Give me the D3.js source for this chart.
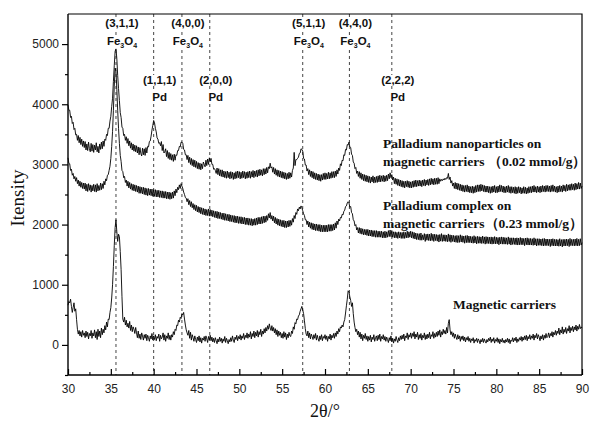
<!DOCTYPE html>
<html><head><meta charset="utf-8">
<script src="https://cdn.jsdelivr.net/npm/d3@7/dist/d3.min.js"></script>
<style>body{margin:0;background:#fff}svg{display:block}</style>
</head><body><svg id="chart" width="590" height="421"></svg>
<script>
// ---------- data ----------
const xTickValues = [30,35,40,45,50,55,60,65,70,75,80,85,90];
const yTickValues = [0,1000,2000,3000,4000,5000];
const xDomain = [30, 90];
const yDomain = [-500, 5500];
const stepDeg = 0.1; // sampling step of the patterns (2θ), one row = 1°

const peakPositions = [35.6, 40.0, 43.3, 46.55, 57.4, 62.85, 67.8];
const peakHkl = ["(3,1,1)","(1,1,1)","(4,0,0)","(2,0,0)","(5,1,1)","(4,4,0)","(2,2,2)"];
const peakPhase = ["Fe3O4","Pd","Fe3O4","Pd","Fe3O4","Fe3O4","Pd"];
const peakRow = [0,1,0,1,0,0,1];

const seriesNames = [
  ["Palladium nanoparticles on","magnetic carriers （0.02 mmol/g）"],
  ["Palladium complex on","magnetic carriers（0.23 mmol/g）"],
  ["Magnetic carriers"]
];

// Pd nanoparticles on magnetic carriers (0.02 mmol/g), 30..90
const pdNanoparticles = [
3990,3900,3900,3780,3800,3680,3700,3580,3600,3490,
3500,3400,3480,3360,3450,3330,3420,3300,3390,3280,
3380,3240,3340,3230,3370,3260,3210,3350,3220,3330,
3200,3320,3240,3360,3210,3300,3190,3340,3250,3370,
3260,3390,3300,3420,3400,3500,3480,3600,3600,3720,
3800,3960,4100,4380,4640,4880,4920,4760,4480,4260,
4060,3860,3780,3620,3600,3480,3500,3400,3460,3350,
3430,3310,3390,3270,3360,3240,3340,3220,3320,3210,
3310,3190,3290,3160,3280,3180,3140,3270,3160,3260,
3150,3280,3190,3300,3290,3380,3390,3470,3570,3650,
3730,3690,3600,3540,3440,3420,3350,3360,3310,3380,
3230,3330,3190,3210,3260,3130,3230,3100,3200,3080,
3180,3070,3160,3050,3170,3070,3160,3150,3230,3230,
3300,3290,3370,3370,3350,3250,3240,3160,3160,3080,
3150,3030,3120,3000,3100,2980,3080,2960,3070,2950,
3050,2930,3030,2920,3020,2910,3010,2930,3040,3000,
2960,3070,2980,3090,3000,3110,3040,3100,3000,3000,
2920,2930,2900,2850,2940,2830,2930,2810,2910,2800,
2910,2790,2890,2780,2880,2770,2890,2780,2870,2760,
2880,2770,2870,2750,2860,2760,2880,2770,2890,2780,
2880,2760,2870,2770,2890,2780,2880,2760,2870,2770,
2880,2780,2890,2770,2880,2790,2900,2780,2890,2800,
2900,2790,2910,2810,2920,2820,2910,2810,2930,2830,
2930,2840,2950,2860,2960,2930,3020,2940,2960,2870,
2950,2840,2930,2820,2910,2800,2900,2790,2890,2780,
2880,2770,2870,2760,2860,2750,2850,2760,2870,2770,
2860,2790,2900,2940,3200,2980,3080,3080,3100,3120,
3180,3190,3260,3250,3220,3100,3090,2990,2990,2890,
2930,2830,2910,2800,2890,2780,2880,2760,2860,2750,
2850,2740,2840,2730,2830,2720,2830,2740,2850,2750,
2860,2750,2850,2760,2870,2760,2860,2770,2880,2780,
2880,2780,2890,2800,2910,2840,2940,2900,3010,2980,
3070,3060,3160,3150,3250,3240,3330,3320,3370,3290,
3280,3170,3150,3040,3020,2930,2950,2850,2890,2800,
2880,2770,2860,2750,2840,2730,2830,2720,2820,2710,
2810,2700,2800,2690,2790,2710,2810,2690,2790,2700,
2800,2700,2810,2710,2820,2710,2810,2720,2820,2710,
2810,2720,2820,2730,2840,2760,2860,2780,2830,2740,
2790,2680,2770,2670,2760,2650,2750,2640,2740,2630,
2730,2620,2720,2610,2720,2630,2730,2620,2720,2610,
2710,2610,2720,2620,2730,2630,2740,2630,2730,2640,
2740,2640,2730,2630,2740,2650,2750,2640,2740,2660,
2750,2650,2760,2660,2770,2670,2760,2660,2770,2670,
2770,2670,2780,2680,2760,2720,2750,2730,2760,2740,
2770,2750,2780,2770,2850,2750,2790,2690,2730,2640,
2690,2600,2700,2590,2690,2580,2680,2570,2670,2560,
2660,2550,2650,2540,2650,2550,2660,2540,2640,2530,
2630,2530,2640,2520,2630,2530,2650,2540,2660,2550,
2660,2550,2670,2560,2660,2550,2650,2540,2640,2540,
2640,2530,2630,2520,2630,2530,2640,2540,2650,2530,
2630,2530,2640,2540,2660,2550,2650,2540,2640,2530,
2630,2530,2640,2540,2650,2530,2630,2520,2630,2530,
2620,2520,2630,2510,2620,2520,2630,2530,2620,2510,
2610,2520,2630,2520,2620,2510,2610,2520,2630,2530,
2630,2530,2640,2540,2650,2540,2630,2530,2640,2540,
2630,2530,2640,2540,2650,2550,2640,2540,2650,2550,
2650,2550,2640,2540,2650,2550,2660,2550,2640,2540,
2630,2530,2640,2540,2650,2550,2640,2540,2660,2560,
2650,2550,2670,2560,2660,2570,2670,2570,2680,2580,
2670,2570,2690,2580,2680,2590,2700,2590,2690,2600,
2640];

// Pd complex on magnetic carriers (0.23 mmol/g)
const pdComplex = [
3110,3020,3010,2900,2920,2820,2850,2760,2800,2720,
2780,2680,2740,2640,2720,2620,2700,2600,2690,2590,
2690,2560,2670,2550,2680,2570,2660,2540,2650,2560,
2670,2550,2660,2540,2680,2560,2650,2570,2690,2580,
2680,2600,2720,2660,2760,2730,2820,2830,2900,2970,
3100,3300,3550,3900,4300,4600,4550,4250,3900,3600,
3350,3150,3050,2900,2880,2780,2800,2700,2740,2640,
2720,2610,2700,2590,2680,2570,2670,2560,2660,2550,
2650,2540,2640,2520,2630,2520,2620,2510,2620,2500,
2610,2490,2600,2480,2600,2490,2590,2480,2590,2470,
2580,2470,2580,2460,2570,2460,2570,2450,2560,2450,
2560,2440,2550,2440,2550,2430,2540,2430,2540,2420,
2530,2430,2540,2440,2560,2480,2590,2530,2620,2580,
2660,2600,2680,2640,2600,2540,2500,2450,2440,2380,
2430,2330,2400,2300,2380,2280,2350,2250,2330,2230,
2320,2210,2300,2200,2290,2180,2280,2170,2270,2160,
2260,2150,2250,2150,2260,2140,2250,2140,2240,2130,
2230,2120,2220,2110,2220,2100,2210,2100,2200,2090,
2190,2080,2190,2070,2180,2070,2170,2060,2170,2050,
2160,2050,2150,2040,2150,2030,2140,2030,2140,2020,
2130,2020,2130,2010,2120,2010,2120,2000,2110,2000,
2110,1990,2100,1990,2100,1980,2090,1990,2100,1990,
2110,2000,2120,2010,2120,2010,2130,2020,2140,2030,
2140,2040,2150,2070,2180,2110,2200,2090,2150,2060,
2140,2030,2120,2010,2100,1990,2090,1980,2080,1970,
2070,1960,2070,1950,2060,1950,2060,1960,2070,1970,
2070,1990,2100,2040,2150,2100,2200,2170,2260,2230,
2290,2260,2310,2280,2230,2180,2150,2080,2080,2000,
2060,1960,2040,1940,2030,1920,2020,1910,2010,1900,
2010,1900,2000,1890,2000,1880,1990,1880,1990,1880,
1990,1880,1990,1880,2000,1890,2000,1890,2000,1900,
2010,1910,2030,1940,2060,2000,2090,2060,2120,2110,
2170,2160,2220,2240,2300,2310,2360,2380,2360,2290,
2300,2200,2180,2080,2060,1980,2000,1910,1950,1860,
1950,1850,1940,1840,1930,1830,1920,1830,1920,1820,
1920,1810,1910,1810,1910,1800,1900,1800,1900,1790,
1900,1790,1890,1790,1890,1790,1890,1780,1880,1780,
1890,1780,1880,1790,1900,1800,1910,1800,1890,1790,
1880,1780,1880,1780,1870,1770,1880,1780,1870,1770,
1870,1770,1880,1770,1870,1780,1890,1780,1880,1790,
1890,1780,1880,1770,1870,1760,1860,1750,1850,1750,
1850,1740,1860,1740,1830,1750,1850,1720,1840,1740,
1845,1735,1840,1730,1855,1735,1840,1720,1840,1735,
1835,1725,1830,1710,1835,1725,1850,1720,1830,1725,
1830,1720,1825,1715,1845,1720,1830,1705,1825,1720,
1820,1710,1815,1705,1820,1700,1815,1705,1830,1710,
1815,1705,1810,1690,1815,1700,1820,1700,1810,1700,
1805,1695,1800,1690,1815,1695,1800,1680,1805,1690,
1800,1690,1795,1685,1810,1690,1795,1675,1800,1685,
1795,1685,1790,1680,1795,1675,1790,1680,1800,1680,
1790,1680,1785,1665,1790,1680,1795,1675,1790,1675,
1785,1675,1780,1670,1795,1675,1780,1660,1780,1670,
1780,1670,1775,1665,1780,1660,1775,1665,1785,1665,
1775,1665,1770,1650,1775,1665,1780,1660,1770,1660,
1770,1660,1765,1655,1780,1660,1765,1645,1765,1655,
1765,1655,1760,1650,1765,1645,1770,1650,1760,1650,
1760,1650,1755,1635,1760,1650,1765,1645,1755,1645,
1755,1645,1750,1640,1765,1645,1750,1630,1755,1645,
1755,1645,1760,1650,1755,1635,1770,1650,1755,1650,
1755,1645,1760,1650,1770,1645,1755,1650,1765,1660,
1700];

// Magnetic carriers
const magneticCarriers = [
660,720,700,760,640,540,620,700,560,600,
420,260,180,240,150,220,130,240,160,200,
120,230,140,210,100,190,150,240,110,200,
150,250,120,220,90,260,140,230,120,280,
170,260,200,320,250,380,300,430,420,540,
620,780,1000,1300,1650,1950,2080,1880,1720,1840,
1800,1550,1250,800,430,380,460,330,410,300,
360,280,390,240,330,220,300,260,190,290,
200,120,230,110,180,90,200,150,80,170,
110,180,70,160,120,60,150,100,190,80,
150,90,170,70,140,110,180,60,160,100,
130,200,80,170,60,150,110,200,90,160,
80,170,130,220,170,260,240,330,320,410,
380,460,440,520,500,540,430,330,250,200,
160,240,110,210,80,170,120,60,150,90,
40,130,70,150,50,120,30,110,80,140,
60,150,100,40,140,80,160,70,130,50,
110,40,120,70,20,100,50,130,60,110,
30,100,60,140,40,110,70,20,90,50,
120,60,150,80,40,130,90,160,70,140,
100,170,80,150,110,190,90,160,120,200,
110,180,130,220,100,190,140,230,120,210,
150,240,130,220,170,260,140,230,180,270,
200,290,230,320,260,350,280,240,320,230,
290,200,270,170,250,140,230,160,210,120,
190,110,220,130,200,90,180,120,210,150,
140,230,190,300,260,370,350,430,420,480,
500,560,600,640,580,520,400,270,180,150,
230,120,200,100,180,140,90,170,110,190,
80,160,100,60,150,90,170,70,140,110,
170,90,150,60,140,100,180,80,160,120,
190,110,200,140,230,180,270,220,300,280,
330,300,380,420,530,650,760,900,880,800,
740,640,700,520,380,290,220,260,170,230,
130,210,100,180,70,160,110,190,90,150,
60,140,80,160,50,130,90,170,60,120,
150,70,160,90,180,60,140,100,170,80,
140,60,130,90,40,120,70,150,50,110,
30,100,60,140,80,40,120,70,150,90,
160,100,180,70,150,120,200,90,170,130,
200,110,190,140,220,100,180,130,210,90,
170,110,190,80,160,120,200,90,170,100,
180,120,210,100,170,140,220,110,190,130,
210,140,230,160,250,130,220,170,260,190,
240,180,290,200,360,420,250,170,220,140,
200,110,180,130,90,170,100,150,60,140,
90,150,70,130,50,120,80,140,60,110,
40,100,70,120,30,90,60,110,40,100,
70,20,90,50,110,40,100,60,30,90,
50,110,70,130,40,100,60,120,30,90,
60,120,40,100,20,90,50,110,40,80,
30,90,50,110,40,100,20,80,60,120,
50,110,70,130,40,100,60,120,80,140,
60,130,80,150,90,160,70,140,100,170,
90,150,110,180,80,160,120,190,100,170,
130,70,150,100,170,80,160,110,190,120,
140,200,120,190,150,220,130,210,170,240,
160,230,190,280,170,250,200,300,180,260,
210,290,190,270,230,320,200,290,240,310,
220,300,250,330,230,310,260,340,270,300,
280];

// ---------- chart ----------
const svg = d3.select("#chart");
const m = {left: 68, right: 582, top: 14, bottom: 375};
const x = d3.scaleLinear().domain(xDomain).range([m.left, m.right]);
const y = d3.scaleLinear().domain(yDomain).range([m.bottom, m.top]);
const sansFont = "'Liberation Sans', Arial, sans-serif";
const serifFont = "'Liberation Serif', 'Times New Roman', serif";

// dashed reference lines
svg.append("g").selectAll("line").data(peakPositions).join("line")
  .attr("x1", d => x(d)).attr("x2", d => x(d))
  .attr("y1", m.top).attr("y2", m.bottom)
  .attr("stroke", "#444").attr("stroke-width", 1).attr("stroke-dasharray", "3,3");

// peak labels with white background
const rowY = [[27, 45], [84, 101]];
const lab = svg.append("g");
peakPositions.forEach((p, i) => {
  const cx = x(p) + 6;
  const [y1, y2] = rowY[peakRow[i]];
  const g = lab.append("g");
  const t1 = g.append("text").attr("x", cx).attr("y", y1).attr("text-anchor", "middle")
    .attr("font-family", sansFont).attr("font-weight", "bold").attr("font-size", 11.5)
    .attr("fill", "#111").text(peakHkl[i]);
  const t2 = g.append("text").attr("x", cx).attr("y", y2).attr("text-anchor", "middle")
    .attr("font-family", sansFont).attr("font-weight", "bold").attr("font-size", 11.5)
    .attr("fill", "#111");
  if (peakPhase[i] === "Fe3O4") {
    t2.append("tspan").text("Fe");
    t2.append("tspan").attr("font-size", 7).attr("dy", 3).text("3");
    t2.append("tspan").attr("dy", -3).text("O");
    t2.append("tspan").attr("font-size", 7).attr("dy", 3).text("4");
  } else {
    t2.text(peakPhase[i]);
  }
  [t1, t2].forEach(t => {
    const b = t.node().getBBox();
    g.insert("rect", "text").attr("x", b.x - 1).attr("y", b.y + 1)
      .attr("width", b.width + 2).attr("height", b.height - 1).attr("fill", "#fff");
  });
});

// curves
const line = d3.line().x((d, i) => x(xDomain[0] + i * stepDeg)).y(d => y(d));
[pdNanoparticles, pdComplex, magneticCarriers].forEach(s => {
  svg.append("path").datum(s).attr("d", line)
    .attr("fill", "none").attr("stroke", "#000").attr("stroke-width", 0.9)
    .attr("stroke-linejoin", "round");
});

// series labels
const seriesPos = [[383, 148, 166], [383, 210, 228], [453, 309]];
seriesNames.forEach((lines, i) => {
  lines.forEach((s, j) => {
    svg.append("text").attr("x", seriesPos[i][0]).attr("y", seriesPos[i][j + 1])
      .attr("font-family", serifFont).attr("font-weight", "bold").attr("font-size", 13.5)
      .attr("fill", "#111").text(s);
  });
});

// axes
const xAxis = svg.append("g").attr("transform", `translate(0,${m.bottom})`)
  .call(d3.axisBottom(x).tickValues(xTickValues).tickSize(-6).tickPadding(9).tickFormat(d3.format("d")));
svg.append("g").attr("transform", `translate(0,${m.bottom})`)
  .call(d3.axisBottom(x).tickValues(d3.range(32.5, 90, 5)).tickSize(-3).tickFormat(""))
  .call(g => g.select(".domain").remove());
const yAxis = svg.append("g").attr("transform", `translate(${m.left},0)`)
  .call(d3.axisLeft(y).tickValues(yTickValues).tickSize(6).tickPadding(3).tickFormat(d3.format("d")));
svg.append("g").attr("transform", `translate(${m.left},0)`)
  .call(d3.axisLeft(y).tickValues([-500,500,1500,2500,3500,4500]).tickSize(3).tickFormat(""))
  .call(g => g.select(".domain").remove());
svg.selectAll(".tick line").attr("stroke", "#000").attr("stroke-width", 1.2);
[xAxis, yAxis].forEach(a => {
  a.select(".domain").attr("stroke", "#000").attr("stroke-width", 1.4);
  a.selectAll(".tick text").attr("font-family", sansFont).attr("font-size", 12).attr("fill", "#222");
});
xAxis.select(".domain").attr("d", `M${m.left},0H${m.right}`);
yAxis.select(".domain").attr("d", `M0,${m.top}V${m.bottom}`);

// frame top/right
svg.append("path").attr("d", `M${m.left},${m.top}H${m.right}V${m.bottom}`)
  .attr("fill", "none").attr("stroke", "#000").attr("stroke-width", 1.2);

// axis titles
svg.append("text").attr("transform", `translate(24,198) rotate(-90)`).attr("text-anchor", "middle")
  .attr("font-family", serifFont).attr("font-size", 19).attr("fill", "#111").text("Itensity");
svg.append("text").attr("x", 325).attr("y", 417).attr("text-anchor", "middle")
  .attr("font-family", serifFont).attr("font-size", 18).attr("fill", "#111").text("2θ/°");
</script></body></html>
